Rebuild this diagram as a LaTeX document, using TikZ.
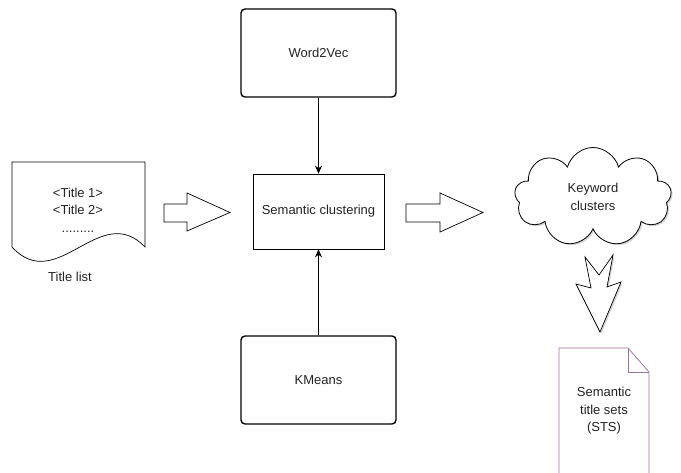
\documentclass[tikz,border=0pt]{standalone}
\usepackage{fontspec}
\setmainfont{Liberation Sans}
\usepackage{tikz}
\usetikzlibrary{arrows.meta,shapes.symbols,shadows}
\definecolor{stsline}{RGB}{160,115,160}
\definecolor{txt}{RGB}{35,35,35}

\begin{document}
\begin{tikzpicture}[x=1pt, y=-1pt,
    lbl/.style={font=\fontsize{13}{17.5}\selectfont, text=txt, align=center, inner sep=0pt},
    toolbox/.style={draw, line width=1.4pt, rounded corners=4pt, minimum width=155, minimum height=88},
    blockarrow/.style={draw, line width=0.7pt, fill=white, line join=miter},
    shade/.style={drop shadow={shadow xshift=1.5pt, shadow yshift=-1.5pt, opacity=0.35}}]
  \useasboundingbox (0,0) rectangle (681,473);

  \newcommand\CX{318.5};

  % tools and clustering
  \node[toolbox, lbl] (w2v) at (\CX, 53) {Word2Vec};
  \node[draw, line width=0.7pt, minimum width=131, minimum height=75, lbl] (sc) at (\CX, 211.5) {Semantic clustering};
  \node[toolbox, lbl] (km) at (\CX, 380) {KMeans};

  \draw[line width=0.7pt, -{Stealth[length=8pt, width=7pt]}] (w2v) -- (sc);
  \draw[line width=0.7pt, -{Stealth[length=8pt, width=7pt]}] (km) -- (sc);

  % title list
  \draw[line width=0.7pt] (12,162) -- (145,162) -- (145,247)
    .. controls (100,200) and (57,296) .. (12,247) -- cycle;
  \node[lbl] (titles) at (78,210) {<Title 1>\\<Title 2>\\.........};
  \node[lbl] (tlist) at (70,277) {Title list};

  \draw[blockarrow] (164,204) -- (187,204) -- (187,193) -- (230,212.5)
    -- (187,231) -- (187,222) -- (164,222) -- cycle;
  \draw[blockarrow] (406,204) -- (440,204) -- (440,193) -- (483,212.5)
    -- (440,232) -- (440,222) -- (406,222) -- cycle;

  % keyword clusters
  \node[cloud, cloud puffs=9, aspect=1.6, draw, line width=0.8pt, fill=white, shade,
    minimum width=157, minimum height=99, lbl] (kc) at (593,197) {Keyword\\clusters};

  \draw[blockarrow, shade] (585,257) -- (599,275) -- (613,255) -- (607,287)
    -- (621,282) -- (600,332) -- (576,284) -- (591,288) -- cycle;

  % semantic title sets
  \draw[stsline, line width=0.8pt, fill=white] (559,474) -- (559,348) -- (628,348)
    -- (649,372) -- (649,474);
  \draw[stsline, line width=0.8pt] (628,348) -- (628,372) -- (649,372);
  \node[lbl] (sts) at (604,411) {Semantic\\title sets\\(STS)};
\end{tikzpicture}
\end{document}
